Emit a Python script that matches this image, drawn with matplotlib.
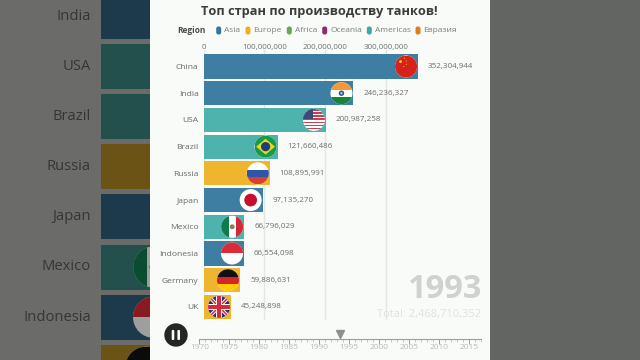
import matplotlib
matplotlib.use('Agg')
import matplotlib.pyplot as plt
from matplotlib.colors import to_rgb
from matplotlib.patches import Circle, FancyBboxPatch, Polygon, Rectangle

plt.rcParams['font.family'] = ['Open Sans', 'DejaVu Sans']

# data
countries = ['China', 'India', 'USA', 'Brazil', 'Russia', 'Japan', 'Mexico', 'Indonesia', 'Germany', 'UK']
values = [352304944, 246236327, 200987258, 121660486, 108895991, 97135270, 66796029, 66554098, 59886631, 45248898]
regions = ['Asia', 'Asia', 'Americas', 'Americas', 'Europe', 'Asia', 'Americas', 'Asia', 'Europe', 'Europe']
legend_names = ['Asia', 'Europe', 'Africa', 'Oceania', 'Americas', 'Евразия']
legend_colors = ['#33769e', '#edb021', '#6aa84f', '#8e2c6e', '#3fa9a5', '#dd7f12']
value_ticks = [0, 100000000, 200000000, 300000000]
year_ticks = [1970, 1975, 1980, 1985, 1990, 1995, 2000, 2005, 2010, 2015]
year_now = 1993
year_pos = 1993.4
total = 2468710352

bar_colors = {'Asia': '#3e7ea3', 'Europe': '#eeb62e', 'Americas': '#4fb3ad'}
dark_colors = {'Asia': '#1c3a4b', 'Europe': '#6b5316', 'Americas': '#234f4c'}


def flag(ax, name, cx, cy, r, shade=1.0, z=5):
    """круглый флаг: полосы и значки обрезаются по кругу"""
    def c(col):
        return tuple(k * shade for k in to_rgb(col))

    circ = Circle((cx, cy), r, fc=c('#ffffff'), ec='none', zorder=z)
    ax.add_patch(circ)
    items = []

    def rect(x0, y0, x1, y1, col):
        items.append(Rectangle((cx + x0 * r, cy + y0 * r), (x1 - x0) * r, (y1 - y0) * r, fc=c(col), ec='none'))

    def poly(pts, col):
        items.append(Polygon([(cx + a * r, cy + b * r) for a, b in pts], fc=c(col), ec='none'))

    def dot(x0, y0, rad, col):
        items.append(Circle((cx + x0 * r, cy + y0 * r), rad * r, fc=c(col), ec='none'))

    if name == 'China':
        rect(-1, -1, 1, 1, '#d7211b')
        dot(-0.5, -0.45, 0.13, '#f2c230')
        for a, b in [(-0.15, -0.75), (0.02, -0.5), (0.02, -0.2), (-0.2, 0.0)]:
            dot(a, b, 0.05, '#f2c230')
    elif name == 'India':
        rect(-1, -1, 1, -0.33, '#f59a33')
        rect(-1, 0.33, 1, 1, '#14863a')
        dot(0, 0, 0.25, '#3f4f8f')
        dot(0, 0, 0.1, '#c8cce0')
    elif name == 'USA':
        for k in range(7):
            rect(-1, -1 + k * 2 / 7, 1, -1 + (k + 0.5) * 2 / 7, '#c7404f')
        rect(-1, -1, -0.05, -0.1, '#3b4a78')
    elif name == 'Brazil':
        rect(-1, -1, 1, 1, '#169b45')
        poly([(-0.85, 0), (0, -0.72), (0.85, 0), (0, 0.72)], '#f5d320')
        dot(0, 0, 0.42, '#1d3f80')
    elif name == 'Russia':
        rect(-1, -0.33, 1, 0.33, '#2f55a8')
        rect(-1, 0.33, 1, 1, '#d8412f')
    elif name == 'Japan':
        dot(0, 0, 0.58, '#c8102e')
    elif name == 'Mexico':
        rect(-1, -1, -0.33, 1, '#0f7a4b')
        rect(0.33, -1, 1, 1, '#ce2b37')
        dot(0, 0, 0.22, '#8a7a55')
    elif name == 'Indonesia':
        rect(-1, -1, 1, 0, '#dc2b35')
    elif name == 'Germany':
        rect(-1, -1, 1, -0.33, '#111111')
        rect(-1, -0.33, 1, 0.33, '#d8232a')
        rect(-1, 0.33, 1, 1, '#ffcc00')
    elif name == 'UK':
        rect(-1, -1, 1, 1, '#26356e')
        poly([(-1, -0.78), (-0.78, -1), (1, 0.78), (0.78, 1)], '#ffffff')
        poly([(1, -0.78), (0.78, -1), (-1, 0.78), (-0.78, 1)], '#ffffff')
        poly([(-1, -0.9), (-0.9, -1), (1, 0.9), (0.9, 1)], '#d8283c')
        poly([(1, -0.9), (0.9, -1), (-1, 0.9), (-0.9, 1)], '#d8283c')
        rect(-1, -0.3, 1, 0.3, '#ffffff')
        rect(-0.3, -1, 0.3, 1, '#ffffff')
        rect(-1, -0.17, 1, 0.17, '#d8283c')
        rect(-0.17, -1, 0.17, 1, '#d8283c')

    for it in items:
        it.set_zorder(z + 0.1)
        ax.add_patch(it)
        it.set_clip_path(circ)


fig = plt.figure(figsize=(6.4, 3.6), dpi=100, facecolor='#636562')

# фон в пикселях: затемнённые края видео и светлая панель
bg = fig.add_axes([0, 0, 1, 1], zorder=0)
bg.set_xlim(0, 640)
bg.set_ylim(360, 0)
bg.axis('off')
bg.add_patch(Rectangle((0, 0), 150, 360, fc='#6b6c6a', ec='none', zorder=1))

for i in range(1, 9):
    yc = 16 + 50.2 * (i - 1)
    bg.add_patch(Rectangle((101, yc - 22.5), 60, 45, fc=dark_colors[regions[i]], ec='none', zorder=2))
    if i < 8:
        bg.text(91, yc, countries[i], ha='right', va='center', fontsize=10.6, color='#343635', zorder=3)
    if i >= 6:
        # тот же флаг, что и в панели, только в масштабе фона
        flag(bg, countries[i], 154 - (values[6] - values[i]) * 1.15e-6, yc, 20.7, shade=0.62, z=3)

bg.add_patch(Rectangle((150, 0), 340, 360, fc='#f8fbf8', ec='none', zorder=6))

# столбцы
ax = fig.add_axes([203.5 / 640, 1 - 320 / 360, 276.5 / 640, 270 / 360], zorder=2)
ax.patch.set_alpha(0)
ax.set_xlim(0, 276.5 / 0.609e-6)
ax.set_ylim(9.49, -0.618)
rows = list(range(len(countries)))
ax.barh(rows, values, height=0.9, color=[bar_colors[r] for r in regions], zorder=3)
ax.set_yticks(rows)
ax.set_yticklabels(countries, fontsize=6.1, color='#666a68')
ax.xaxis.tick_top()
ax.set_xticks(value_ticks)
ax.set_xticklabels([f'{v:,}' for v in value_ticks], fontsize=5.8, color='#6f7371')
ax.tick_params(axis='x', length=0, pad=-0.5)
ax.tick_params(axis='y', length=0, pad=3.6)
ax.grid(axis='x', color='#e3e6e3', lw=1, zorder=1)
ax.set_axisbelow(True)
for s in ax.spines.values():
    s.set_visible(False)
for i, v in enumerate(values):
    ax.annotate(f'{v:,}', (v, i), xytext=(7.2, 0), textcoords='offset points',
                va='center', fontsize=5.8, color='#6a6e6c', zorder=4)

# всё поверх графика в пикселях
ov = fig.add_axes([0, 0, 1, 1], zorder=3)
ov.patch.set_alpha(0)
ov.set_xlim(0, 640)
ov.set_ylim(360, 0)
ov.axis('off')

for i, (name, v) in enumerate(zip(countries, values)):
    p = ov.transData.inverted().transform(ax.transData.transform((v, i)))
    flag(ov, name, p[0] - 12, p[1], 11)

ov.text(319.5, 12, 'Топ стран по производству танков!', ha='center', va='center',
        fontsize=9.2, fontweight='bold', color='#3a3d3c')
ov.text(191.5, 30.5, 'Region', ha='center', va='center', fontsize=6, fontweight='bold', color='#4a4d4c')
legend_x = [218.7, 248, 289.3, 324.7, 369.3, 418]
for x, name, col in zip(legend_x, legend_names, legend_colors):
    ov.add_patch(FancyBboxPatch((x - 2.5, 26.5), 5, 8, boxstyle='round,pad=0,rounding_size=2.2',
                                fc=col, ec='none'))
    ov.text(x + 5.5, 30.5, name, ha='left', va='center', fontsize=6, color='#7a7e7c')

ov.text(481, 289, str(year_now), ha='right', va='center', fontsize=23.5, fontweight='bold', color='#cfd2cf')
ov.text(481, 314, f'Total: {total:,}', ha='right', va='center', fontsize=8, color='#dfe2df')

ov.add_patch(Circle((176, 335), 11.7, fc='#242624', ec='none'))
for x in (171.5, 177.2):
    ov.add_patch(FancyBboxPatch((x + 0.2, 330), 2.6, 10, boxstyle='round,pad=0,rounding_size=1',
                                fc='#f8fbf8', ec='none'))

# шкала лет
tl = fig.add_axes([199.3 / 640, 1 - 349 / 360, 281.7 / 640, 10 / 360], zorder=3)
tl.patch.set_alpha(0)
tl.set_xlim(1970, 2017)
tl.set_ylim(0, 1)
tl.set_yticks([])
for side in ('left', 'right', 'bottom'):
    tl.spines[side].set_visible(False)
tl.spines['top'].set_color('#9b9e9c')
tl.spines['top'].set_linewidth(0.8)
tl.set_xticks(year_ticks)
tl.set_xticklabels([str(y) for y in year_ticks], fontsize=6, color='#b9bcba')
tl.set_xticks(list(range(1970, 2018)), minor=True)
tl.tick_params(axis='x', which='both', top=True, bottom=False, labelbottom=True, direction='in')
tl.tick_params(axis='x', which='major', length=3.5, width=0.7, color='#9b9e9c', pad=-3.5)
tl.tick_params(axis='x', which='minor', length=1.8, width=0.5, color='#b3b6b4')
tl.plot([year_pos], [1.5], marker='v', ms=5.5, color='#8d908e', clip_on=False)

fig.savefig('out.png', dpi=100)
